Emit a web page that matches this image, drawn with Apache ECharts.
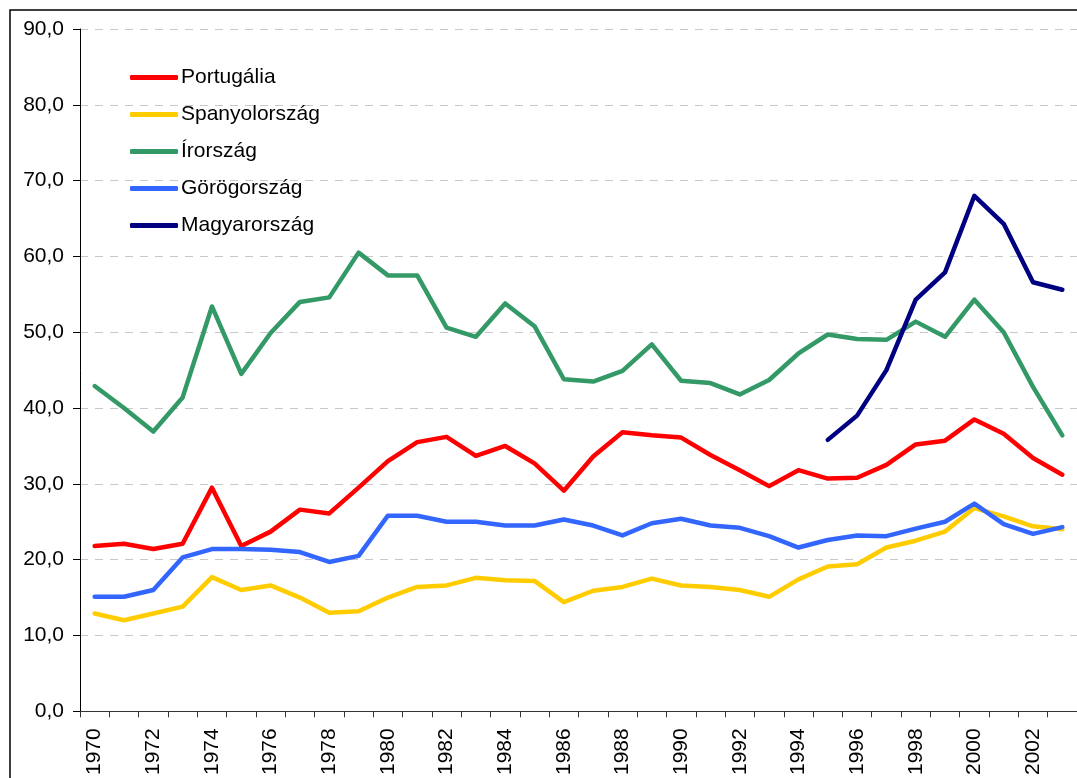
<!DOCTYPE html>
<html>
<head>
<meta charset="utf-8">
<script src="https://cdn.jsdelivr.net/npm/echarts@6/dist/echarts.min.js"></script>
<style>
html,body{margin:0;padding:0;background:#fff;}
#chart{width:1077px;height:778px;}
</style>
</head>
<body>
<div id="chart"></div>
<script>
var years = [];
for (var y = 1970; y <= 2003; y++) years.push(String(y));

var portugal = [21.8,22.1,21.4,22.1,29.5,21.8,23.7,26.6,26.1,29.5,
                33.0,35.5,36.2,33.7,35.0,32.7,29.1,33.6,36.8,36.4,
                36.1,33.8,31.8,29.7,31.8,30.7,30.8,32.5,35.2,35.7,
                38.5,36.6,33.4,31.2];
var spain = [12.9,12.0,12.9,13.8,17.7,16.0,16.6,15.0,13.0,13.2,
             15.0,16.4,16.6,17.6,17.3,17.2,14.4,15.9,16.4,17.5,
             16.6,16.4,16.0,15.1,17.4,19.1,19.4,21.6,22.5,23.7,
             26.8,25.7,24.4,24.0];
var ireland = [42.9,40.0,36.9,41.4,53.4,44.5,49.9,54.0,54.6,60.5,
               57.5,57.5,50.6,49.4,53.8,50.8,43.8,43.5,44.9,48.4,
               43.6,43.3,41.8,43.7,47.2,49.7,49.1,49.0,51.4,49.4,
               54.3,50.0,42.8,36.4];
var greece = [15.1,15.1,16.0,20.3,21.4,21.4,21.3,21.0,19.7,20.5,
              25.8,25.8,25.0,25.0,24.5,24.5,25.3,24.5,23.2,24.8,
              25.4,24.5,24.2,23.1,21.6,22.6,23.2,23.1,24.1,25.0,
              27.4,24.7,23.4,24.3];
var hungary = [null,null,null,null,null,null,null,null,null,null,
               null,null,null,null,null,null,null,null,null,null,
               null,null,null,null,null,35.8,39.0,45.0,54.3,57.9,
               68.0,64.3,56.6,55.6];

var seriesNames = ['Portugália','Spanyolország','Írország','Görögország','Magyarország'];
var seriesData = [portugal, spain, ireland, greece, hungary];
var seriesColors = ['#FF0000','#FFCC00','#339966','#3366FF','#000080'];

var FONT = '"Liberation Sans", Arial, sans-serif';

var chart = echarts.init(document.getElementById('chart'), null, {renderer:'canvas'});
chart.setOption({
  animation: false,
  backgroundColor: '#ffffff',
  graphic: [{
    type: 'rect',
    silent: true,
    shape: {x: 10, y: 10, width: 1200, height: 900},
    style: {fill: 'none', stroke: '#000', lineWidth: 1.5}
  }],
  grid: {left: 80, top: 29, width: 1000, height: 685, containLabel: false},
  legend: {
    orient: 'vertical',
    left: 125,
    top: 62,
    icon: 'roundRect',
    itemWidth: 48,
    itemHeight: 5,
    itemGap: 16,
    data: seriesNames,
    textStyle: {fontFamily: FONT, fontSize: 21, color: '#000', padding: [0, 0, 0, -2]}
  },
  xAxis: {
    type: 'category',
    data: years,
    boundaryGap: true,
    axisLine: {lineStyle: {color: '#333', width: 1}},
    axisTick: {show: true, interval: 0, length: 6, lineStyle: {color: '#333'}},
    axisLabel: {interval: 1, rotate: 90, margin: 17, fontFamily: FONT, fontSize: 21, color: '#000'},
    splitLine: {show: false}
  },
  yAxis: {
    type: 'value',
    min: 0, max: 90, interval: 10,
    axisLine: {show: true, lineStyle: {color: '#000', width: 1}},
    axisTick: {show: true, length: 7, lineStyle: {color: '#000'}},
    axisLabel: {
      margin: 16, fontFamily: FONT, fontSize: 21, color: '#000',
      formatter: function (v) { return v.toFixed(1).replace('.', ','); }
    },
    splitLine: {show: true, lineStyle: {color: '#c8c8c8', type: [8, 7], width: 1}}
  },
  series: seriesNames.map(function (n, i) {
    return {
      name: n,
      type: 'line',
      data: seriesData[i],
      symbol: 'none',
      connectNulls: false,
      color: seriesColors[i],
      lineStyle: {color: seriesColors[i], width: 4.5, cap: 'round', join: 'round'}
    };
  })
});
</script>
</body>
</html>
